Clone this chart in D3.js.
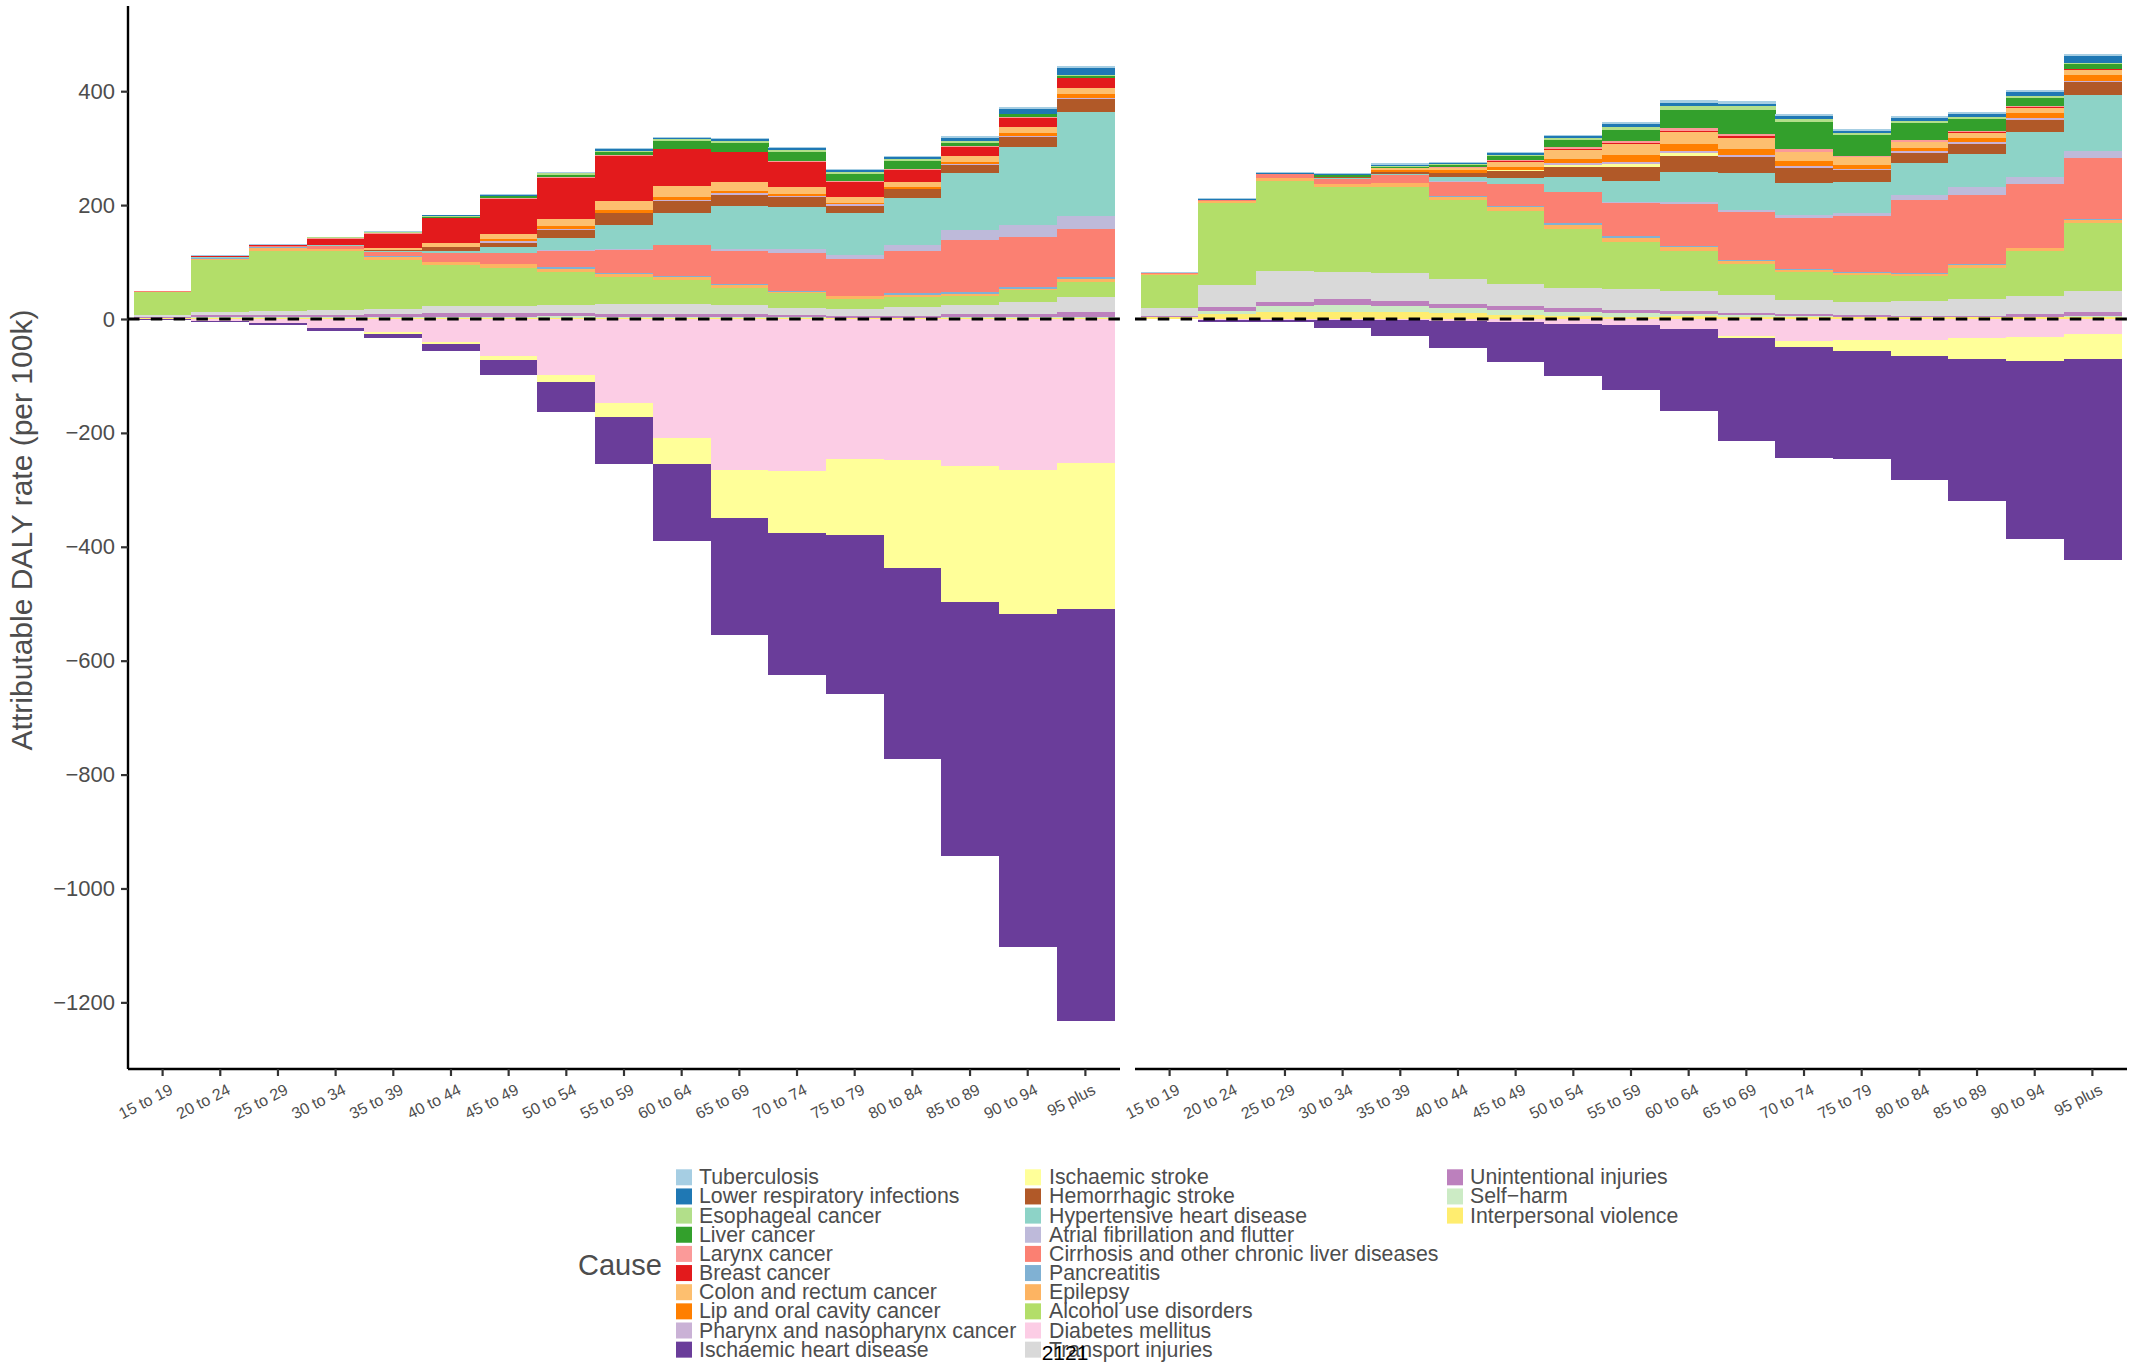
<!DOCTYPE html>
<html><head><meta charset="utf-8">
<script src="https://cdn.jsdelivr.net/npm/d3@7"></script>
<style>
body{margin:0;background:#fff}
svg{display:block}
text{font-family:"Liberation Sans",Arial,Helvetica,sans-serif}
</style>
</head><body>
<svg id="chart" width="2137" height="1366"></svg>
<script>
// ---------------- DATA ----------------
const ageGroups = ["15 to 19","20 to 24","25 to 29","30 to 34","35 to 39","40 to 44","45 to 49","50 to 54","55 to 59","60 to 64","65 to 69","70 to 74","75 to 79","80 to 84","85 to 89","90 to 94","95 plus"];
const causes = ["Tuberculosis","Lower respiratory infections","Esophageal cancer","Liver cancer","Larynx cancer","Breast cancer","Colon and rectum cancer","Lip and oral cavity cancer","Pharynx and nasopharynx cancer","Ischaemic heart disease","Ischaemic stroke","Hemorrhagic stroke","Hypertensive heart disease","Atrial fibrillation and flutter","Cirrhosis and other chronic liver diseases","Pancreatitis","Epilepsy","Alcohol use disorders","Diabetes mellitus","Transport injuries","Unintentional injuries","Self\u2212harm","Interpersonal violence"];
const causeColors = ["#a6cee3","#1f78b4","#b2df8a","#33a02c","#fb9a99","#e31a1c","#fdbf6f","#ff7f00","#cab2d6","#6a3d9a","#ffff99","#b15928","#8dd3c7","#bebada","#fb8072","#80b1d3","#fdb462","#b3de69","#fccde5","#d9d9d9","#bc80bd","#ccebc5","#ffed6f"];
const yTickValues = [400,200,0,-200,-400,-600,-800,-1000,-1200];
const panelNames = ["Female","Male"];

// Left panel (female) values per cause, one per age group
const femaleTuberculosis = [1,0.6,0.7,0.8,0.7,1.5,1.7,1.0,2.2,2.3,2.3,2.4,2.3,2.4,2.9,3.5,3.5];
const femaleLowerResp = [0.5,0.8,0.8,0.8,1.0,1.5,1.8,1.3,3.0,1.8,3.0,3.5,3.5,2.9,5.9,8.3,11.7];
const femaleEsophageal = [0,0,0,0.3,0.3,0.5,0.5,3.5,1.2,2.9,3.5,3.5,2.9,3.5,2.9,0.5,2.4];
const femaleLiverCancer = [0,0,0,1.5,1.5,3.0,4.3,3.6,6.3,13.5,15.3,16.5,12.3,14.7,5.9,4.7,3.0];
const femaleLarynx = [0,0.3,0.3,0.3,0.3,0.3,0.4,0.5,0.7,0.5,0.5,0.5,1.8,0.5,1.7,2.3,0.5];
const femaleBreast = [0,2.0,1.8,10.5,24.6,43.9,62.0,72.6,79.6,65.0,52.7,44.5,26.3,21.7,15.8,15.8,17.5];
const femaleColon = [0,0,0,0.8,4.0,5.7,9.4,12.3,15.8,19.3,15.8,11.7,10.0,8.8,10.6,10.5,10.6];
const femaleLip = [0,0,0,0,0.5,0.5,2.9,4.7,5.0,5.2,4.1,3.5,2.3,3.0,2.9,5.3,7.0];
const femalePharynx = [0,0,0,0.2,0.5,0.5,3.5,2.4,1.0,2.4,2.9,2.3,3.5,0.5,2.3,2.3,2.3];
const femaleIHD = [-1,-2,-2.5,-6,-7,-12,-26,-52,-83,-135,-205,-250,-279,-335,-446,-585,-723];
const femaleIschStroke = [0,0,0,0,-4,-4,-7,-13,-25,-46,-85,-109,-134,-190,-239,-253,-256];
const femaleHemStroke = [0,0,0,0.5,1.5,5.9,7.6,14.0,20.5,21.1,19.3,17.6,12.9,15.8,14.1,17.0,22.3];
const femaleHypertensive = [0,0.3,0,0.5,1.0,3.5,9.3,21.1,42.3,55.1,75.5,74.3,73.1,83.1,100.1,137.5,182.0];
const femaleAtrialFib = [0,0,0,0.3,0.5,1.2,0.7,1.7,1.0,0.5,3.5,6.5,7.1,9.9,17.5,20.6,23.4];
const femaleCirrhosis = [0.3,1.5,1.8,5.0,7.5,14.7,18.5,28.7,41.5,54.4,57.4,66.7,64.6,74.4,91.3,88.3,84.9];
const femalePancreatitis = [0,0.3,0.3,0.3,0.3,0.5,0.8,2.3,1.8,2.4,2.3,2.3,0.3,2.3,3.5,2.4,3.5];
const femaleEpilepsy = [0.5,2.0,6.0,3.0,5.2,5.3,7.0,5.3,5.3,4.6,5.3,0.5,5.3,3.5,3.5,2.3,4.7];
const femaleAlcoholUse = [41,91,105,103.5,86,72.1,66.7,58.5,46.8,42.2,29.8,27.0,17.5,18.1,15.8,21.1,26.3];
const femaleDiabetes = [-0.5,-4,-7.5,-15,-22,-40,-65,-98,-147,-209,-265,-267,-246,-247,-258,-265,-253];
const femaleTransport = [3.5,6.5,8.0,10.0,9.3,12.8,12.8,14.6,17.5,17.5,15.8,12.3,12.3,15.8,15.8,21.0,26.3];
const femaleUnintentional = [1,3.5,3.5,3.5,5.0,6.0,6.0,5.5,5.3,5.3,5.3,4.0,3.3,3.3,5.3,5.3,8.8];
const femaleSelfHarm = [0.5,1,1,1,1.6,1.5,1.5,2,1,1,1,1,0.5,0.5,1,1,1];
const femaleViolence = [1.5,2,2,2,2.5,2.5,2.5,2.5,2.5,2.5,2.5,2,1.5,1.5,2.5,2.5,2.5];

// Right panel (male) values per cause, one per age group
const maleTuberculosis = [1.5,2.0,2.0,1.5,2.6,2.3,2.5,2.4,3.5,5.3,5.3,3.5,3.5,3.5,3.5,3.5,3.5];
const maleLowerResp = [0.8,1.0,0.9,1.5,2.5,2.4,3.0,4.1,5.3,5.2,3.5,5.3,3.5,5.3,5.2,7.1,12.3];
const maleEsophageal = [0,0,0,1.0,0.5,1.5,2.0,3.5,5.3,7.1,7.0,5.2,3.0,3.5,3.6,3.5,1.8];
const maleLiverCancer = [0,0,0,2.5,2.0,4.1,7.0,11.1,19.9,31.6,42.1,47.4,36.8,29.8,21.0,14.0,8.2];
const maleLarynx = [0,0,0,0,0,0.5,2.0,4.7,3.6,5.2,3.5,4.2,1.8,3.5,1.8,1.8,0.5];
const maleBreast = [0,0,0,0,0,0,0.5,1.8,0.5,1.8,3.6,0.5,0,0,1.7,1.7,1.8];
const maleColon = [0,0,0,1.0,4.5,4.1,9.0,14.6,19.9,21.1,19.3,16.4,14.6,10.6,8.8,8.8,8.8];
const maleLip = [0,0,0,0,2.5,4.9,5.0,8.2,12.3,11.7,10.5,8.2,7.0,5.2,7.0,8.2,10.5];
const malePharynx = [0,0,0,0,0.5,0.5,1.0,3.5,3.5,4.6,4.9,3.0,1.8,3.6,3.6,4.1,1.8];
const maleIHD = [-0.5,-4,-5,-15,-28,-47,-69,-91.3,-114,-143.9,-181.4,-194.4,-189.6,-217.7,-249.4,-312.6,-353];
const maleIschStroke = [0,0,0,0,0,0.5,1.0,3.5,5.2,4.7,-3.6,-10.5,-19.3,-28.1,-36.9,-42.1,-43.9];
const maleHemStroke = [0,0,0,1.5,4.0,5.8,12.3,17.6,24.6,28.1,27.5,26.9,20.5,17.5,17.5,21.1,22.8];
const maleHypertensive = [0,0,0,1.0,1.5,8.4,11.2,25.1,37.6,52.1,64.9,56.8,55.6,56.2,59.1,79.0,98.3];
const maleAtrialFib = [0,0,0,0,0.5,1.0,0.5,0.5,0.5,4.1,3.5,4.7,4.7,8.8,12.9,11.7,12.3];
const maleCirrhosis = [1.3,2.3,6.5,8.8,13.4,24.6,38.0,55.0,58.5,73.7,83.8,89.5,98.3,128.7,122.4,112.5,107.1];
const malePancreatitis = [0,0.5,0,0,0,2.3,2.4,2.4,3.5,2.4,2.3,1.8,2.3,1.8,0.5,0.5,1.8];
const maleEpilepsy = [2.3,2.9,5.8,5.9,7.1,4.7,5.8,8.2,6.4,6.4,5.3,3.5,3.6,2.9,5.3,5.2,5.3];
const maleAlcoholUse = [56.7,143.4,158,148.6,150.4,138.7,128.8,103,83.2,70.3,54.4,49.2,46.8,43.9,54.4,79.0,119.4];
const maleDiabetes = [0,-1,-1,-1,-2,-3.5,-6,-8.8,-10.5,-17.6,-29.2,-38.6,-36.9,-36.9,-33.3,-31.6,-26.3];
const maleTransport = [14.1,38.7,54.5,48.0,49.7,43.9,38.6,35.1,36.8,35.1,31.6,24.5,22.8,26.3,29.8,31.6,36.8];
const maleUnintentional = [2.9,7.0,7.0,10.5,8.8,7.6,7.0,7.0,5.3,5.2,4.1,4.2,3.6,2.4,2.4,4.8,7.0];
const maleSelfHarm = [0,5.8,9.9,11.7,9.9,8.8,8.8,6.4,7.0,2.9,2.9,0.5,0.5,0.5,0.5,0.5,1.8];
const maleViolence = [2.9,8.8,12.9,12.9,12.9,9.9,7.0,5.9,3.5,5.9,3.5,4.1,2.9,2.9,2.9,3.5,3.5];

const femaleSeries = [femaleTuberculosis,femaleLowerResp,femaleEsophageal,femaleLiverCancer,femaleLarynx,femaleBreast,femaleColon,femaleLip,femalePharynx,femaleIHD,femaleIschStroke,femaleHemStroke,femaleHypertensive,femaleAtrialFib,femaleCirrhosis,femalePancreatitis,femaleEpilepsy,femaleAlcoholUse,femaleDiabetes,femaleTransport,femaleUnintentional,femaleSelfHarm,femaleViolence];
const maleSeries = [maleTuberculosis,maleLowerResp,maleEsophageal,maleLiverCancer,maleLarynx,maleBreast,maleColon,maleLip,malePharynx,maleIHD,maleIschStroke,maleHemStroke,maleHypertensive,maleAtrialFib,maleCirrhosis,malePancreatitis,maleEpilepsy,maleAlcoholUse,maleDiabetes,maleTransport,maleUnintentional,maleSelfHarm,maleViolence];

// ---------------- CHART ----------------
const svg = d3.select("#chart");
const W = 2137, H = 1366;
svg.append("rect").attr("width",W).attr("height",H).attr("fill","#fff");

const panelTop = 6, panelBottom = 1069;
const panels = [{x0:128, x1:1120, series:femaleSeries},{x0:1135, x1:2127, series:maleSeries}];
const y = d3.scaleLinear().domain([-1317, 549.6]).range([panelBottom, panelTop]);
const color = d3.scaleOrdinal().domain(causes).range(causeColors);
const textGrey = "#4d4d4d";

panels.forEach((p, pi) => {
  const x = d3.scaleBand().domain(ageGroups).range([p.x0, p.x1]).paddingInner(0).paddingOuter(0.1);
  const g = svg.append("g");
  // build stacked segments (ggplot order: first level on top / farthest from zero)
  const segs = [];
  ageGroups.forEach((age, ai) => {
    let pos = 0, neg = 0;
    for (let ci = causes.length - 1; ci >= 0; ci--) {
      const v = p.series[ci][ai];
      if (!v) continue;
      if (v > 0) { segs.push({age, cause:causes[ci], y0:pos, y1:pos+v}); pos += v; }
      else { segs.push({age, cause:causes[ci], y0:neg+v, y1:neg}); neg += v; }
    }
  });
  g.selectAll("rect.seg").data(segs).join("rect")
    .attr("class","seg")
    .attr("x", d => x(d.age))
    .attr("width", x.bandwidth() + 0.4)
    .attr("y", d => y(d.y1))
    .attr("height", d => Math.max(0, y(d.y0) - y(d.y1)))
    .attr("fill", d => color(d.cause))
    .attr("shape-rendering","crispEdges");

  // dashed zero line
  g.append("line")
    .attr("x1", p.x0).attr("x2", p.x1)
    .attr("y1", y(0)).attr("y2", y(0))
    .attr("stroke","#000").attr("stroke-width",3)
    .attr("stroke-dasharray","11.5 11.3");

  // x axis
  const xAxis = d3.axisBottom(x).tickSize(7).tickSizeOuter(0).tickPadding(0);
  const xa = svg.append("g").attr("transform", `translate(0,${panelBottom})`).call(xAxis);
  xa.select(".domain").attr("stroke","#000").attr("stroke-width",2.4).attr("d", `M${p.x0},0H${p.x1}`);
  xa.selectAll(".tick line").attr("stroke","#333").attr("stroke-width",2.2);
  xa.selectAll(".tick text")
    .attr("fill", textGrey).attr("font-size", 16)
    .attr("x", 0).attr("y", 0).attr("dy", "0.72em")
    .attr("text-anchor","end")
    .attr("transform","translate(6,14) rotate(-27)");

  if (pi === 0) {
    const yAxis = d3.axisLeft(y).tickValues(yTickValues).tickSize(7).tickSizeOuter(0).tickPadding(6)
      .tickFormat(d => d < 0 ? "\u2212" + Math.abs(d) : String(d));
    const ya = svg.append("g").attr("transform", `translate(${p.x0},0)`).call(yAxis);
    ya.select(".domain").attr("stroke","#000").attr("stroke-width",2.4).attr("d", `M0,${panelTop}V${panelBottom}`);
    ya.selectAll(".tick line").attr("stroke","#333").attr("stroke-width",2.2);
    ya.selectAll(".tick text").attr("fill", textGrey).attr("font-size", 22);
  }
});

// y axis title
svg.append("text")
  .attr("transform", "translate(32,530) rotate(-90)")
  .attr("text-anchor","middle")
  .attr("fill", textGrey)
  .attr("font-size", 30)
  .text("Attributable DALY rate (per 100k)");

// legend
const legendCols = [{keyX:676, textX:699},{keyX:1025, textX:1049},{keyX:1447, textX:1470}];
const legendTop = 1169.3, rowPitch = 19.15, keySize = 16;
svg.append("text").attr("x",578).attr("y",1275).attr("fill",textGrey).attr("font-size",29).text("Cause");
const lg = svg.append("g");
causes.forEach((c, i) => {
  const col = legendCols[Math.floor(i / 10)], row = i % 10;
  const top = legendTop + row * rowPitch;
  lg.append("rect").attr("x", col.keyX).attr("y", top).attr("width", keySize).attr("height", keySize).attr("fill", color(c));
  lg.append("text").attr("x", col.textX).attr("y", top + 15).attr("fill", textGrey).attr("font-size", 21.3).text(c);
});

// stray caption text
svg.append("text").attr("x",1041.7).attr("y",1360).attr("fill","#000").attr("font-size",21).text("2121");
</script>
</body></html>
